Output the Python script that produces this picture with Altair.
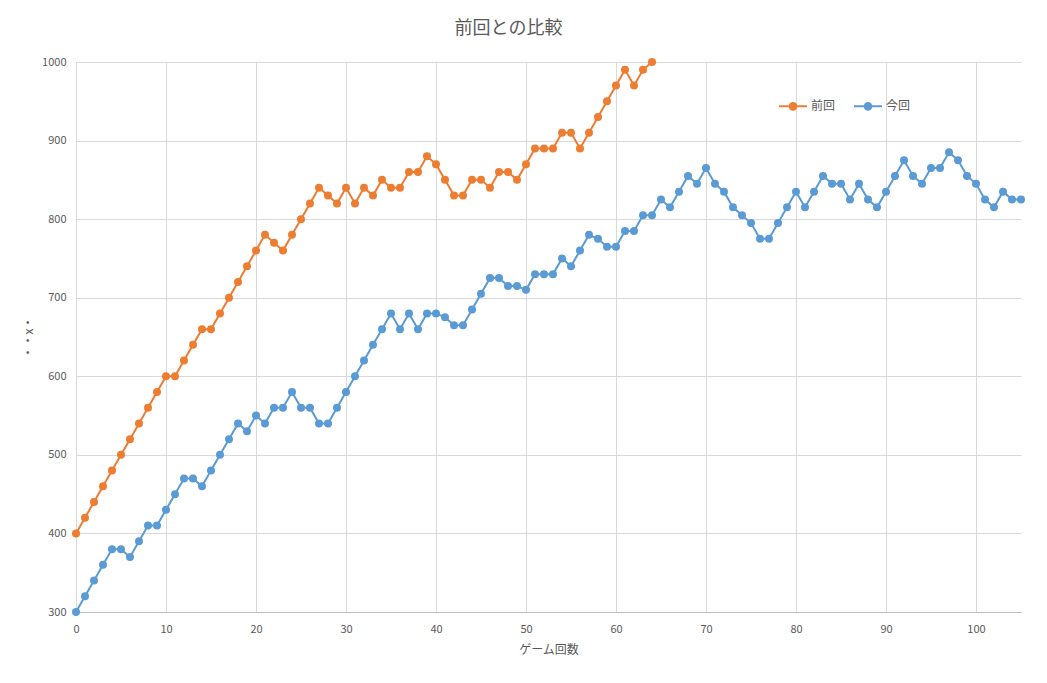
import altair as alt
import pandas as pd

chart_title = "前回との比較"
x_title = "ゲーム回数"
y_title = "・・x・"
series_names = ["前回", "今回"]
series_colors = ["#ED7D31", "#5B9BD5"]

prev_scores = [
    400, 420, 440, 460, 480, 500, 520, 540, 560, 580,
    600, 600, 620, 640, 660, 660, 680, 700, 720, 740,
    760, 780, 770, 760, 780, 800, 820, 840, 830, 820,
    840, 820, 840, 830, 850, 840, 840, 860, 860, 880,
    870, 850, 830, 830, 850, 850, 840, 860, 860, 850,
    870, 890, 890, 890, 910, 910, 890, 910, 930, 950,
    970, 990, 970, 990, 1000,
]

curr_scores = [
    300, 320, 340, 360, 380, 380, 370, 390, 410, 410,
    430, 450, 470, 470, 460, 480, 500, 520, 540, 530,
    550, 540, 560, 560, 580, 560, 560, 540, 540, 560,
    580, 600, 620, 640, 660, 680, 660, 680, 660, 680,
    680, 675, 665, 665, 685, 705, 725, 725, 715, 715,
    710, 730, 730, 730, 750, 740, 760, 780, 775, 765,
    765, 785, 785, 805, 805, 825, 815, 835, 855, 845,
    865, 845, 835, 815, 805, 795, 775, 775, 795, 815,
    835, 815, 835, 855, 845, 845, 825, 845, 825, 815,
    835, 855, 875, 855, 845, 865, 865, 885, 875, 855,
    845, 825, 815, 835, 825, 825,
]

x_ticks = [0, 10, 20, 30, 40, 50, 60, 70, 80, 90, 100]
y_ticks = [300, 400, 500, 600, 700, 800, 900, 1000]

rows = []
for i, v in enumerate(prev_scores):
    rows.append({"game": i, "score": v, "series": series_names[0]})
for i, v in enumerate(curr_scores):
    rows.append({"game": i, "score": v, "series": series_names[1]})
df = pd.DataFrame(rows)

font = "Noto Sans CJK JP"
text_color = "#595959"

legend_symbol = (
    "M-1,0L1,0"
    "M-0.24,0a0.24,0.24 0 1,0 0.48,0a0.24,0.24 0 1,0 -0.48,0"
    "M-0.15,0a0.15,0.15 0 1,0 0.3,0a0.15,0.15 0 1,0 -0.3,0"
    "M-0.07,0a0.07,0.07 0 1,0 0.14,0a0.07,0.07 0 1,0 -0.14,0"
)

chart = (
    alt.Chart(df)
    .mark_line(
        strokeWidth=2,
        point=alt.OverlayMarkDef(filled=True, size=64, opacity=1),
    )
    .encode(
        x=alt.X(
            "game:Q",
            scale=alt.Scale(domain=[0, 105], nice=False, zero=False),
            axis=alt.Axis(
                values=x_ticks,
                title=x_title,
                format="d",
                ticks=False,
                tickSize=0,
                labelFlush=False,
                labelPadding=11,
                titlePadding=10,
                domainColor="#BFBFBF",
                domainWidth=1,
                grid=True,
            ),
        ),
        y=alt.Y(
            "score:Q",
            scale=alt.Scale(domain=[300, 1000], nice=False, zero=False),
            axis=alt.Axis(
                values=y_ticks,
                title=y_title,
                format="d",
                ticks=False,
                tickSize=0,
                domain=False,
                labelFlush=False,
                labelPadding=10,
                titlePadding=6,
                grid=True,
            ),
        ),
        color=alt.Color(
            "series:N",
            scale=alt.Scale(domain=series_names, range=series_colors),
            legend=alt.Legend(
                title=None,
                orient="none",
                legendX=702,
                legendY=29,
                direction="horizontal",
                symbolType=legend_symbol,
                symbolSize=784,
                symbolStrokeWidth=2,
                labelFontSize=12,
                labelFont=font,
                labelColor=text_color,
                columnPadding=14,
                labelOffset=3,
            ),
        ),
    )
    .properties(
        width=945,
        height=550,
        title=alt.TitleParams(
            chart_title,
            font=font,
            fontSize=18,
            fontWeight="normal",
            color=text_color,
            anchor="middle",
            dx=-40,
            offset=18,
        ),
        autosize=alt.AutoSizeParams(type="none"),
        padding={"left": 68, "top": 54, "right": 18, "bottom": 63},
    )
    .configure_view(stroke=None)
    .configure_axis(
        gridColor="#D9D9D9",
        gridWidth=1,
        labelFont=font,
        labelFontSize=11,
        labelColor=text_color,
        titleFont=font,
        titleFontSize=12,
        titleFontWeight="normal",
        titleColor=text_color,
    )
)

chart.save("out.html", embed_options={"renderer": "svg", "actions": False})
